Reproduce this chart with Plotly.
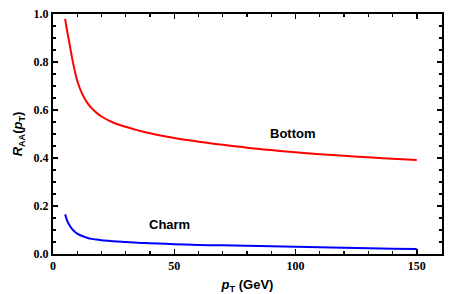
import plotly.graph_objects as go

pt = [5, 6, 7, 8, 9, 10, 12, 14, 16, 18, 20, 25, 30, 35, 40, 50, 60, 70, 80, 90, 100, 110, 120, 130, 140, 150]
raa_bottom = [0.98, 0.92, 0.865, 0.81, 0.762, 0.722, 0.668, 0.632, 0.607, 0.588, 0.573, 0.547, 0.53, 0.515, 0.503,
              0.483, 0.468, 0.455, 0.443, 0.433, 0.424, 0.416, 0.409, 0.403, 0.397, 0.392]
raa_charm = [0.165, 0.135, 0.117, 0.103, 0.093, 0.085, 0.075, 0.068, 0.063, 0.060, 0.057, 0.053, 0.050, 0.047,
             0.045, 0.041, 0.038, 0.036, 0.034, 0.032, 0.030, 0.028, 0.026, 0.024, 0.022, 0.021]

x_ticks = [0, 50, 100, 150]
y_ticks = [0.0, 0.2, 0.4, 0.6, 0.8, 1.0]
y_tick_labels = ["0.0", "0.2", "0.4", "0.6", "0.8", "1.0"]

fig = go.Figure()
fig.add_trace(go.Scatter(x=pt, y=raa_bottom, mode="lines", line=dict(color="#ff0000", width=2, shape="spline"),
                         showlegend=False, hoverinfo="skip"))
fig.add_trace(go.Scatter(x=pt, y=raa_charm, mode="lines", line=dict(color="#0000ff", width=2, shape="spline"),
                         showlegend=False, hoverinfo="skip"))

tickfont = dict(family="Liberation Serif", size=12, color="black")
axis_common = dict(showgrid=False, zeroline=False, showline=True, linecolor="#000000", linewidth=2,
                   mirror="allticks", ticks="inside", ticklen=5, tickwidth=1.5, tickcolor="#000000",
                   tickfont=tickfont, automargin=False)

fig.update_xaxes(range=[0, 160.4], tickvals=x_ticks, ticktext=[f"<b>{v}</b>" for v in x_ticks],
                 minor=dict(ticks="inside", ticklen=3, tickwidth=1.2, tickcolor="#000000", dtick=10, showgrid=False),
                 title=dict(text="<b><i>p</i><sub>T</sub> (GeV)</b>",
                            font=dict(family="Liberation Sans", size=13, color="black"), standoff=8),
                 **axis_common)
fig.update_yaxes(range=[0, 1.0], tickvals=y_ticks, ticktext=[f"<b>{t}</b>" for t in y_tick_labels],
                 minor=dict(ticks="inside", ticklen=3, tickwidth=1.2, tickcolor="#000000", dtick=0.05, showgrid=False),
                 title=dict(text="<b><i>R</i><sub>AA</sub>(<i>p</i><sub>T</sub>)</b>",
                            font=dict(family="Liberation Sans", size=13, color="black"), standoff=8),
                 **axis_common)

fig.add_annotation(x=98.8, y=0.503, text="<b>Bottom</b>", showarrow=False,
                   font=dict(family="Liberation Sans", size=13, color="black"))
fig.add_annotation(x=48, y=0.124, text="<b>Charm</b>", showarrow=False,
                   font=dict(family="Liberation Sans", size=13, color="black"))

fig.update_layout(width=457, height=294, margin=dict(l=53, r=15, t=14, b=40),
                  paper_bgcolor="white", plot_bgcolor="white")

fig.write_html("out.html", config={"displayModeBar": False, "staticPlot": True})
with open("out.html", "r", encoding="utf-8") as f:
    html = f.read()
html = html.replace("<head>", "<head><style>html,body{margin:0;padding:0;overflow:hidden;}</style>", 1)
with open("out.html", "w", encoding="utf-8") as f:
    f.write(html)
